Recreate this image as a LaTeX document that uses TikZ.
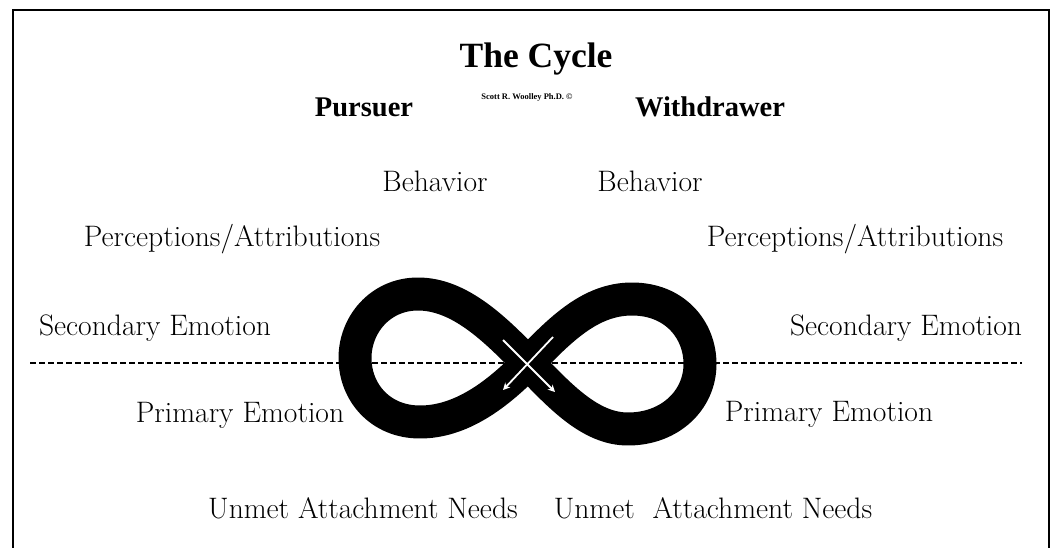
\documentclass[tikz,border=0pt]{standalone}
\usepackage{fontspec}
\newfontfamily\headfont{Liberation Serif}
\usetikzlibrary{arrows.meta}

\begin{document}
\begin{tikzpicture}[
  x=1pt, y=-1pt,
  >={Stealth[length=7pt,width=7pt]},
  lbl/.style={anchor=base, inner sep=0pt, font=\fontsize{29.6}{35}\selectfont},
  head/.style={anchor=base, inner sep=0pt, font=\headfont\bfseries\fontsize{28.5}{34}\selectfont},
  loop8/.style={line width=33pt, line join=round},
  cross/.style={->, white, line width=1.8pt}
]

\useasboundingbox (0,0) rectangle (1052,548);

% frame (open at the bottom)
\draw[line width=2.8pt] (13,548) -- (13,10) -- (1049,10) -- (1049,548);

% headings
\node[anchor=base, inner sep=0pt, font=\headfont\bfseries\fontsize{35.5}{40}\selectfont] (title) at (536,68) {The Cycle};
\node[anchor=base, inner sep=0pt, font=\headfont\bfseries\fontsize{8.5}{10}\selectfont] (credit) at (527,100) {Scott R. Woolley Ph.D. \textcopyright};
\node[head] (pursuer) at (364,117) {Pursuer};
\node[head] (withdrawer) at (710,117) {Withdrawer};

% left side
\node[lbl] (behL) at (435,192) {Behavior};
\node[lbl] (percL) at (232,247) {Perceptions/Attributions};
\node[lbl] (secL) at (155,335) {Secondary Emotion};
\node[lbl] (primL) at (240,422) {Primary Emotion};
\node[lbl] (needL) at (363,518) {Unmet Attachment Needs};

% right side
\node[lbl] (behR) at (650,192) {Behavior};
\node[lbl] (percR) at (855,247) {Perceptions/Attributions};
\node[lbl] (secR) at (906,335) {Secondary Emotion};
\node[lbl] (primR) at (829,421) {Primary Emotion};
\node[lbl] (needR) at (713,518) {Unmet\ \ Attachment Needs};

% dividing line
\coordinate (lineL) at (30,363);
\coordinate (lineR) at (1022,363);
\draw[line width=1.5pt, dash pattern=on 6pt off 3pt] (lineL) -- (lineR);

% the loop
\coordinate (mid) at (528,363);
\draw[loop8] (mid)
  .. controls (560,330) and (590,299) .. (632,299)
  .. controls (675,299) and (700,330) .. (700,364)
  .. controls (700,400) and (670,429) .. (628,429)
  .. controls (590,429) and (560,396) .. (mid)
  .. controls (496,330) and (460,294) .. (418,294)
  .. controls (380,294) and (355,325) .. (355,358)
  .. controls (355,392) and (380,422) .. (420,422)
  .. controls (460,422) and (496,396) .. (mid) -- cycle;

% crossing arrows
\coordinate (arrAs) at (553,337);
\coordinate (arrAe) at (503,390);
\coordinate (arrBs) at (503,340);
\coordinate (arrBe) at (555,392);
\draw[cross] (arrAs) -- (arrAe);
\draw[cross] (arrBs) -- (arrBe);

\end{tikzpicture}
\end{document}
